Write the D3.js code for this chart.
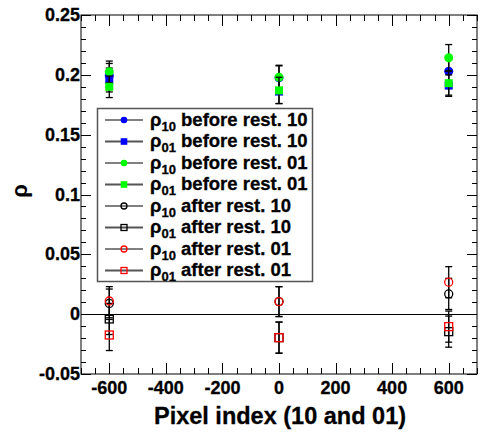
<!DOCTYPE html>
<html>
<head>
<meta charset="utf-8">
<script src="https://cdn.jsdelivr.net/npm/d3@7"></script>
<style>
  body { margin: 0; background: #fff; }
  svg text { font-family: "Liberation Sans", Arial, Helvetica, sans-serif; font-weight: bold; }
</style>
</head>
<body>
<svg id="chart" width="484" height="434"></svg>
<script>
// pixel positions (x) shared by all series
const pixels = [-600, 0, 600];

// rho values and errors, one array per series
const rho10Before10 = [0.1995, 0.1975, 0.203];
const rho10Before10Err = [0.010, 0.010, 0.010];
const rho01Before10 = [0.1957, 0.186, 0.191];
const rho01Before10Err = [0.010, 0.010, 0.009];
const rho10Before01 = [0.2025, 0.198, 0.2143];
const rho10Before01Err = [0.009, 0.010, 0.011];
const rho01Before01 = [0.190, 0.187, 0.193];
const rho01Before01Err = [0.009, 0.011, 0.010];
const rho10After10 = [0.009, 0.0105, 0.0169];
const rho10After10Err = [0.012, 0.0125, 0.013];
const rho01After10 = [-0.004, -0.0196, -0.0146];
const rho01After10Err = [0.013, 0.013, 0.013];
const rho10After01 = [0.011, 0.0105, 0.0267];
const rho10After01Err = [0.012, 0.0125, 0.013];
const rho01After01 = [-0.0174, -0.0196, -0.0104];
const rho01After01Err = [0.013, 0.013, 0.013];

const yTicks = [-0.05, 0, 0.05, 0.1, 0.15, 0.2, 0.25];
const xTicks = [-600, -400, -200, 0, 200, 400, 600];

const series = [
  { sub: "10", label: "before rest. 10", vals: rho10Before10, errs: rho10Before10Err, color: "#0000ff", shape: "circle", filled: true },
  { sub: "01", label: "before rest. 10", vals: rho01Before10, errs: rho01Before10Err, color: "#0000ff", shape: "square", filled: true },
  { sub: "10", label: "before rest. 01", vals: rho10Before01, errs: rho10Before01Err, color: "#00ff00", shape: "circle", filled: true },
  { sub: "01", label: "before rest. 01", vals: rho01Before01, errs: rho01Before01Err, color: "#00ff00", shape: "square", filled: true },
  { sub: "10", label: "after rest. 10", vals: rho10After10, errs: rho10After10Err, color: "#000000", shape: "circle", filled: false },
  { sub: "01", label: "after rest. 10", vals: rho01After10, errs: rho01After10Err, color: "#000000", shape: "square", filled: false },
  { sub: "10", label: "after rest. 01", vals: rho10After01, errs: rho10After01Err, color: "#ff0000", shape: "circle", filled: false },
  { sub: "01", label: "after rest. 01", vals: rho01After01, errs: rho01After01Err, color: "#ff0000", shape: "square", filled: false }
];

const svg = d3.select("#chart");
const fL = 81, fR = 477, fT = 15, fB = 374;

const x = d3.scaleLinear().domain([-700, 700]).range([fL, fR]);
const y = d3.scaleLinear().domain([-0.05, 0.25]).range([fB, fT]);

// frame
svg.append("rect")
   .attr("x", fL).attr("y", fT)
   .attr("width", fR - fL).attr("height", fB - fT)
   .attr("fill", "none").attr("stroke", "#000").attr("stroke-width", 1);

// ticks, ROOT style on all four sides
const yMinor = d3.range(-0.05, 0.2501, 0.01);
const xMinor = d3.range(-700, 701, 50);
const tk = svg.append("g").attr("stroke", "#000").attr("stroke-width", 1);
yMinor.forEach(v => {
  const major = yTicks.some(t => Math.abs(t - v) < 1e-6);
  const len = major ? 10 : 5;
  const py = Math.round(y(v)) + 0.5;
  tk.append("line").attr("x1", fL).attr("x2", fL + len).attr("y1", py).attr("y2", py);
  tk.append("line").attr("x1", fR - len).attr("x2", fR).attr("y1", py).attr("y2", py);
});
xMinor.forEach(v => {
  const major = xTicks.includes(v);
  const len = major ? 11 : 6;
  const px = Math.round(x(v)) + 0.5;
  tk.append("line").attr("x1", px).attr("x2", px).attr("y1", fB).attr("y2", fB - len);
  tk.append("line").attr("x1", px).attr("x2", px).attr("y1", fT).attr("y2", fT + len);
});

// tick labels
svg.append("g").selectAll("text")
   .data(yTicks).enter().append("text")
   .attr("x", fL - 1)
   .attr("y", d => y(d) + 6)
   .attr("text-anchor", "end")
   .attr("font-size", 18)
   .attr("stroke", "#000").attr("stroke-width", 0.3)
   .text(d => String(+d.toFixed(2)));

svg.append("g").selectAll("text")
   .data(xTicks).enter().append("text")
   .attr("x", d => x(d))
   .attr("y", 394)
   .attr("text-anchor", "middle")
   .attr("font-size", 18)
   .attr("stroke", "#000").attr("stroke-width", 0.3)
   .text(d => String(d));

// axis titles
svg.append("text")
   .attr("x", 280).attr("y", 424)
   .attr("text-anchor", "middle")
   .attr("font-size", 23.5)
   .attr("stroke", "#000").attr("stroke-width", 0.3)
   .text("Pixel index (10 and 01)");

svg.append("text")
   .attr("transform", "translate(27,191) rotate(-90)")
   .attr("text-anchor", "middle")
   .attr("font-size", 22)
   .text("ρ");

// zero line
svg.append("line")
   .attr("x1", fL).attr("x2", fR)
   .attr("y1", Math.round(y(0)) + 0.5).attr("y2", Math.round(y(0)) + 0.5)
   .attr("stroke", "#000").attr("stroke-width", 1);

function drawMarker(g, s, cx, cy, size) {
  if (s.shape === "circle") {
    g.append("circle").attr("cx", cx).attr("cy", cy).attr("r", size)
     .attr("fill", s.filled ? s.color : "none")
     .attr("stroke", s.color).attr("stroke-width", s.filled ? 0 : 1.3);
  } else {
    g.append("rect").attr("x", cx - size).attr("y", cy - size)
     .attr("width", size * 2).attr("height", size * 2)
     .attr("fill", s.filled ? s.color : "none")
     .attr("stroke", s.color).attr("stroke-width", s.filled ? 0 : 1.3);
  }
}

// error bars and markers
const plot = svg.append("g");
series.forEach(s => {
  const g = plot.append("g");
  pixels.forEach((p, i) => {
    const px = x(p);
    const lo = y(s.vals[i] - s.errs[i]);
    const hi = y(s.vals[i] + s.errs[i]);
    g.append("line").attr("x1", px).attr("x2", px).attr("y1", lo).attr("y2", hi)
     .attr("stroke", "#000").attr("stroke-width", 1.3);
    [lo, hi].forEach(e => {
      g.append("line").attr("x1", px - 3.5).attr("x2", px + 3.5).attr("y1", e).attr("y2", e)
       .attr("stroke", "#000").attr("stroke-width", 1.3);
    });
  });
  pixels.forEach((p, i) => {
    drawMarker(g, s, x(p), y(s.vals[i]), s.filled ? (s.shape === "circle" ? 4.5 : 4) : 4);
  });
});

// legend
const lg = svg.append("g");
lg.append("rect")
  .attr("x", 97.5).attr("y", 108.5).attr("width", 215).attr("height", 173)
  .attr("fill", "#fff").attr("stroke", "#555").attr("stroke-width", 1.5);

series.forEach((s, i) => {
  const cy = 120 + i * 21.5;
  lg.append("line").attr("x1", 105).attr("x2", 143).attr("y1", cy).attr("y2", cy)
    .attr("stroke", s.shape === "circle" ? "#000" : "#555")
    .attr("stroke-width", s.shape === "circle" ? 1 : 2);
  drawMarker(lg, s, 124, cy, s.filled ? 3.3 : 3);
  const t = lg.append("text").attr("x", 150).attr("y", cy + 5.5).attr("font-size", 18.5)
    .attr("stroke", "#000").attr("stroke-width", 0.3);
  t.append("tspan").text("ρ");
  t.append("tspan").attr("dy", 5).attr("font-size", 13).text(s.sub);
  t.append("tspan").attr("dy", -5).text(" " + s.label);
});
</script>
</body>
</html>
